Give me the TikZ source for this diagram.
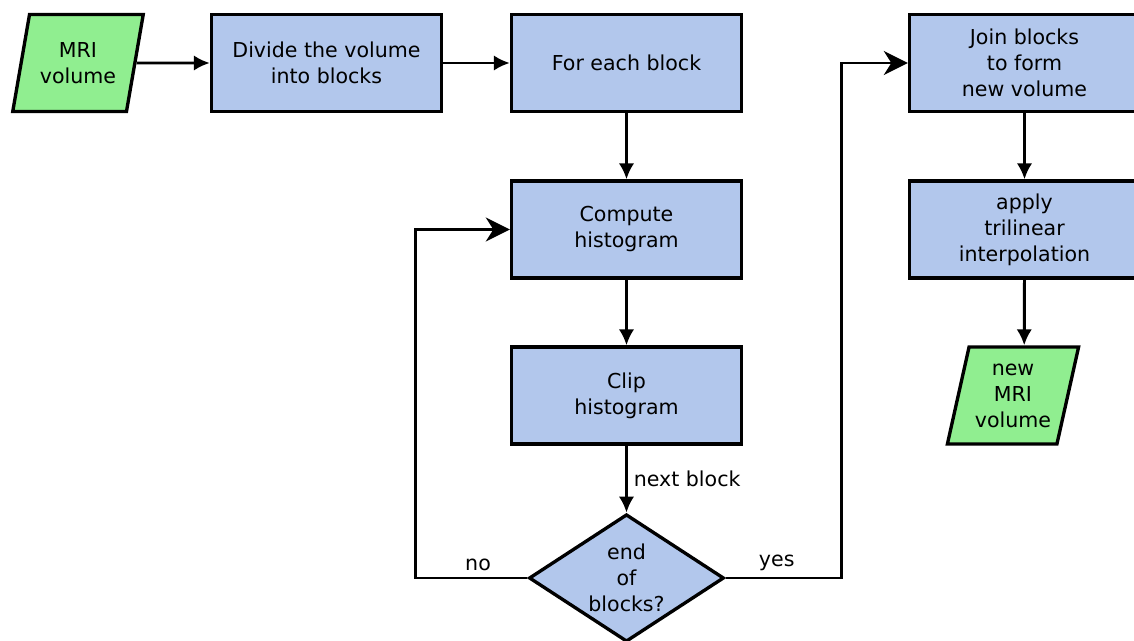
\documentclass[tikz,border=0pt]{standalone}
\usepackage{fontspec}
\setmainfont{DejaVu Sans}
\usetikzlibrary{arrows.meta,shapes.geometric,positioning}
\definecolor{boxblue}{RGB}{178,199,236}
\definecolor{iogreen}{RGB}{144,238,144}

\begin{document}
\begin{tikzpicture}[node distance=6cm,>={Latex[length=3.2mm,width=3.1mm]},font=\fontsize{11.7}{14.8}\selectfont]
    \tikzstyle{block}=[rectangle,line width=1.9pt,draw=black,fill=boxblue,minimum width=4.6cm,minimum height=1.94cm,align=center]
    \tikzstyle{io}=[trapezium,trapezium left angle=74,trapezium right angle=106,trapezium stretches=true,line width=1.9pt,draw=black,fill=iogreen,minimum width=2.62cm,minimum height=1.94cm,align=center]
    \tikzstyle{decision}=[diamond,aspect=1.54,inner sep=0pt,line width=1.9pt,draw=black,fill=boxblue,minimum width=3.9cm,minimum height=2.55cm,align=center]
    \tikzstyle{line}=[->,line width=1.7pt]
    \tikzstyle{back}=[-{Stealth[length=4.8mm,width=4.8mm,inset=1.5mm]},line width=1.7pt]
    \useasboundingbox (-1.56,1.26) rectangle (21.12,-11.56);
    \node[io] (mri) {MRI\\volume};
    \node[block,right of=mri,node distance=4.97cm] (divide) {Divide the volume\\into blocks};
    \node[block,right of=divide] (foreach) {For each block};
    \node[block,below of=foreach,node distance=3.33cm] (compute) {Compute\\histogram};
    \node[block,below of=compute,node distance=3.32cm] (clip) {Clip\\histogram};
    \node[decision,below of=clip,node distance=3.65cm] (end) {end\\of\\blocks?};
    \node[block,right of=foreach,node distance=7.96cm] (join) {Join blocks\\to form\\new volume};
    \node[block,below of=join,node distance=3.33cm] (apply) {apply\\trilinear\\interpolation};
    \node[io,below of=apply,node distance=3.32cm,xshift=-0.23cm] (newmri) {new\\MRI\\volume};
    \draw[line] (mri.east) -- (divide);
    \draw[line] (divide) -- (foreach);
    \draw[line] (foreach) -- (compute);
    \draw[line] (compute) -- (clip);
    \draw[line] (clip) -- node[right] {next block} (end);
    \draw[back] (end.west) -- node[above,pos=0.44] {no} ++(-2.24,0) |- (compute.west);
    \draw[back] (end.east) -- node[above,pos=0.44] {yes} ++(2.32,0) |- (join.west);
    \draw[line] (join) -- (apply);
    \draw[line] (apply.south) -- (newmri.top side);
\end{tikzpicture}
\end{document}
